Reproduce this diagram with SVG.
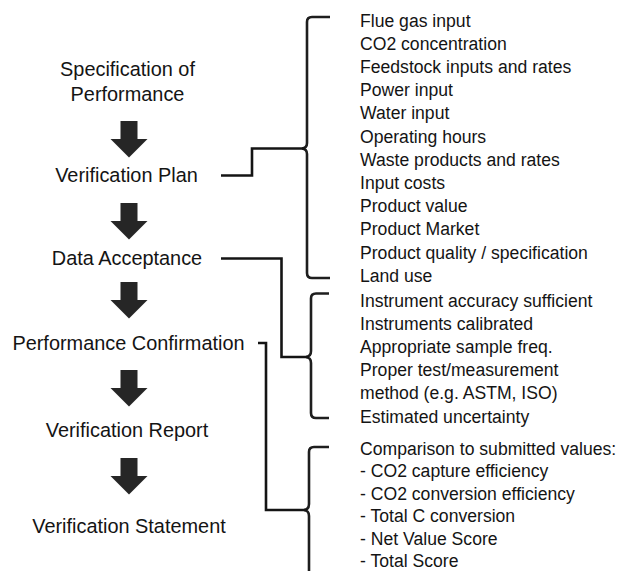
<svg xmlns="http://www.w3.org/2000/svg" width="618" height="571" viewBox="0 0 618 571">
<defs>
<style>
.lbl{font-family:"Liberation Sans",Arial,sans-serif;font-size:19.9px;fill:#141414;text-anchor:middle}
.lst{font-family:"Liberation Sans",Arial,sans-serif;font-size:17.6px;fill:#141414}
.ln{fill:none;stroke:#141414;stroke-width:2.6;stroke-linejoin:miter}
.br{fill:none;stroke:#1e1e1e;stroke-width:2.6;stroke-linecap:butt}
.arr{fill:#262626}
</style>
<path id="arrow" d="M-8.5,0 H8.5 V18 H18.5 L0,36.5 L-18.5,18 H-8.5 Z"/>
</defs>
<rect width="618" height="571" fill="#ffffff"/>

<g id="n-spec"><text class="lbl" x="127.5" y="76">Specification of</text><text class="lbl" x="127.5" y="101">Performance</text></g>
<g id="n-plan"><text class="lbl" x="126.5" y="182">Verification Plan</text></g>
<g id="n-data"><text class="lbl" x="127" y="265">Data Acceptance</text></g>
<g id="n-perf"><text class="lbl" x="128.5" y="350">Performance Confirmation</text></g>
<g id="n-report"><text class="lbl" x="127" y="437">Verification Report</text></g>
<g id="n-stmt"><text class="lbl" x="129" y="533">Verification Statement</text></g>

<g id="arrows">
<use href="#arrow" class="arr" x="129" y="121"/>
<use href="#arrow" class="arr" x="129" y="203"/>
<use href="#arrow" class="arr" x="129" y="282"/>
<use href="#arrow" class="arr" x="129" y="370"/>
<use href="#arrow" class="arr" x="129" y="458"/>
</g>

<g id="list-plan">
<text class="lst" x="360" y="26.5">Flue gas input</text>
<text class="lst" x="360" y="49.7">CO2 concentration</text>
<text class="lst" x="360" y="72.9">Feedstock inputs and rates</text>
<text class="lst" x="360" y="96.1">Power input</text>
<text class="lst" x="360" y="119.3">Water input</text>
<text class="lst" x="360" y="142.5">Operating hours</text>
<text class="lst" x="360" y="165.7">Waste products and rates</text>
<text class="lst" x="360" y="188.9">Input costs</text>
<text class="lst" x="360" y="212.1">Product value</text>
<text class="lst" x="360" y="235.3">Product Market</text>
<text class="lst" x="360" y="258.5">Product quality / specification</text>
<text class="lst" x="360" y="281.7">Land use</text>
</g>
<g id="list-data">
<text class="lst" x="360" y="306.5">Instrument accuracy sufficient</text>
<text class="lst" x="360" y="329.7">Instruments calibrated</text>
<text class="lst" x="360" y="352.9">Appropriate sample freq.</text>
<text class="lst" x="360" y="376.1">Proper test/measurement</text>
<text class="lst" x="360" y="399.3">method (e.g. ASTM, ISO)</text>
<text class="lst" x="360" y="422.5">Estimated uncertainty</text>
</g>
<g id="list-perf">
<text class="lst" x="360" y="454.5">Comparison to submitted values:</text>
<text class="lst" x="360" y="477">- CO2 capture efficiency</text>
<text class="lst" x="360" y="499.5">- CO2 conversion efficiency</text>
<text class="lst" x="360" y="522">- Total C conversion</text>
<text class="lst" x="360" y="544.5">- Net Value Score</text>
<text class="lst" x="360" y="566.5">- Total Score</text>
</g>

<g id="braces">
<path class="br" d="M330,17 H312 Q307,17 307,22 V143 Q307,148 302,148.5 Q307,149 307,154 V273 Q307,278 312,278 H330"/>
<path class="br" d="M329,293.5 H316 Q311,293.5 311,298.5 V351 Q311,356.5 306,357 Q311,357.5 311,363 V413 Q311,418 316,418 H329"/>
<path class="br" d="M329,447 H314 Q309,447 309,452 V504 Q309,509.5 304,510 Q309,510.5 309,516 V575"/>
</g>

<g id="connectors">
<path class="ln" d="M221,175.5 H252 V148.5 H305"/>
<path class="ln" d="M221,258.5 H281.5 V357 H309"/>
<path class="ln" d="M258,343 H266 V510 H307"/>
</g>
</svg>
